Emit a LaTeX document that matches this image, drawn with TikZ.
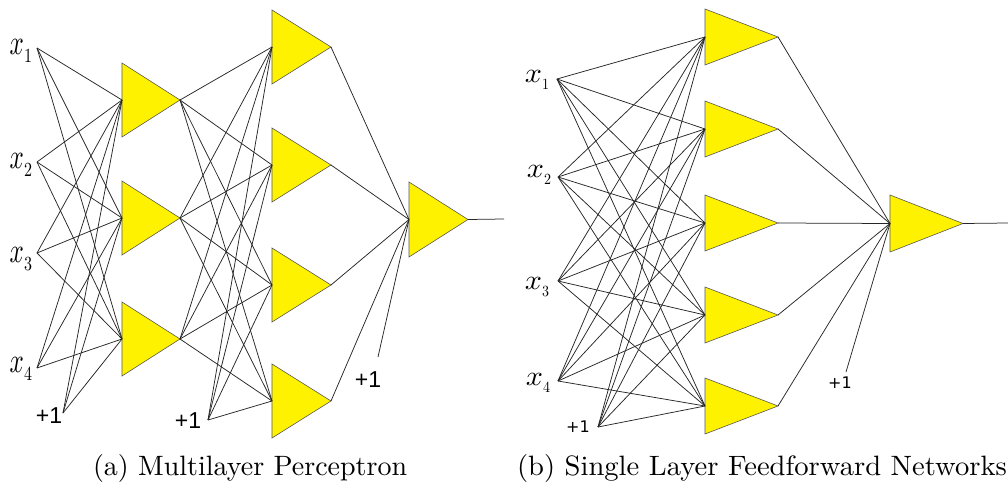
\documentclass[tikz,border=0pt]{standalone}
\usepackage{fontspec}
\newfontfamily\ars{Liberation Sans}
\newfontfamily\djv{DejaVu Sans}
\tikzset{
  wire/.style={draw=black!85, line width=0.75pt},
  neuronshape/.style={fill=yellow, draw=black!65, line width=0.6pt, line join=miter},
  lbl/.style={inner sep=0pt, outer sep=0pt},
}
% #1 name, #2 left x, #3 centre y, #4 half height, #5 width
\newcommand\neuron[5]{%
  \coordinate (#1-in) at (#2,#3);
  \coordinate (#1-out) at ({#2+#5},#3);
  \path[neuronshape] (#2,{#3-#4}) -- (#2,{#3+#4}) -- ({#2+#5},#3) -- cycle;
}
\newcommand\xa[1]{\scalebox{2.5}[3.5]{$x$}\raisebox{-8pt}{\scalebox{1.6}[2]{#1}}}
\newcommand\xb[1]{\scalebox{3}[2.8]{$x$}\raisebox{-7pt}{\scalebox{1.4}[1.55]{#1}}}
\begin{document}
\begin{tikzpicture}[x=1pt,y=-1pt]
\useasboundingbox (0,0) rectangle (1008,489);
% ---------- (a) Multilayer Perceptron ----------
\coordinate (a-x1) at (37,48);
\coordinate (a-x2) at (37,162);
\coordinate (a-x3) at (37,253);
\coordinate (a-x4) at (37,368);
\coordinate (a-b1) at (63,413);
\coordinate (a-b2) at (208,420);
\coordinate (a-b3) at (378,357);
\coordinate (a-end) at (504,219);
\neuron{a-h1}{122}{100}{37}{58}
\neuron{a-h2}{122}{218}{37}{58}
\neuron{a-h3}{122}{339}{37}{58}
\neuron{a-g1}{272}{47}{37}{59}
\neuron{a-g2}{272}{165}{37}{59}
\neuron{a-g3}{272}{285}{37}{59}
\neuron{a-g4}{272}{401}{37}{59}
\neuron{a-o}{409}{219.5}{37.5}{59}
\foreach \i in {x1,x2,x3,x4,b1}
  \foreach \h in {h1,h2,h3}
    \draw[wire] (a-\i) -- (a-\h-in);
\foreach \h in {h1,h2,h3}
  \foreach \g in {g1,g2,g3,g4}
    \draw[wire] (a-\h-out) -- (a-\g-in);
\foreach \g in {g1,g2,g3,g4}
  \draw[wire] (a-b2) -- (a-\g-in);
\foreach \g in {g1,g2,g3,g4}
  \draw[wire] (a-\g-out) -- (a-o-in);
\draw[wire] (a-b3) -- (a-o-in);
\draw[wire] (a-o-out) -- (a-end);
\node[lbl, anchor=base east] (a-l1) at (32,55) {\xa{1}};
\node[lbl, anchor=base east] (a-l2) at (32,168) {\xa{2}};
\node[lbl, anchor=base east] (a-l3) at (32,262) {\xa{3}};
\node[lbl, anchor=base east] (a-l4) at (32,372) {\xa{4}};
\node[lbl] (a-p1) at (49,416) {\ars\fontsize{23}{23}\selectfont +1};
\node[lbl] (a-p2) at (188,421) {\ars\fontsize{23}{23}\selectfont +1};
\node[lbl] (a-p3) at (368,380) {\ars\fontsize{23}{23}\selectfont +1};
\node[lbl, anchor=base west] (a-cap) at (93,475) {\scalebox{2.8}{\normalsize (a) Multilayer Perceptron}};
% ---------- (b) Single Layer Feedforward Networks ----------
\coordinate (b-x1) at (557,79);
\coordinate (b-x2) at (558,177);
\coordinate (b-x3) at (558,281);
\coordinate (b-x4) at (558,381);
\coordinate (b-b1) at (598,427);
\coordinate (b-b2) at (846,372);
\coordinate (b-end) at (1008,223);
\neuron{b-h1}{705}{37}{28}{73}
\neuron{b-h2}{705}{129}{28}{73}
\neuron{b-h3}{705}{223}{28}{73}
\neuron{b-h4}{705}{315}{28}{73}
\neuron{b-h5}{705}{406}{28}{73}
\neuron{b-o}{890}{223.5}{28.5}{73}
\foreach \i in {x1,x2,x3,x4,b1}
  \foreach \h in {h1,h2,h3,h4,h5}
    \draw[wire] (b-\i) -- (b-\h-in);
\foreach \h in {h1,h2,h3,h4,h5}
  \draw[wire] (b-\h-out) -- (b-o-in);
\draw[wire] (b-b2) -- (b-o-in);
\draw[wire] (b-o-out) -- (b-end);
\node[lbl, anchor=base east] (b-l1) at (549,83) {\xb{1}};
\node[lbl, anchor=base east] (b-l2) at (551,178) {\xb{2}};
\node[lbl, anchor=base east] (b-l3) at (549,289) {\xb{3}};
\node[lbl, anchor=base east] (b-l4) at (550,385) {\xb{4}};
\node[lbl] (b-p1) at (578,427) {\djv\fontsize{16}{16}\selectfont +1};
\node[lbl] (b-p2) at (840,383) {\djv\fontsize{16}{16}\selectfont +1};
\node[lbl, anchor=base west] (b-cap) at (517,475) {\scalebox{2.86}[2.8]{\normalsize (b) Single Layer Feedforward Networks}};
\end{tikzpicture}
\end{document}
